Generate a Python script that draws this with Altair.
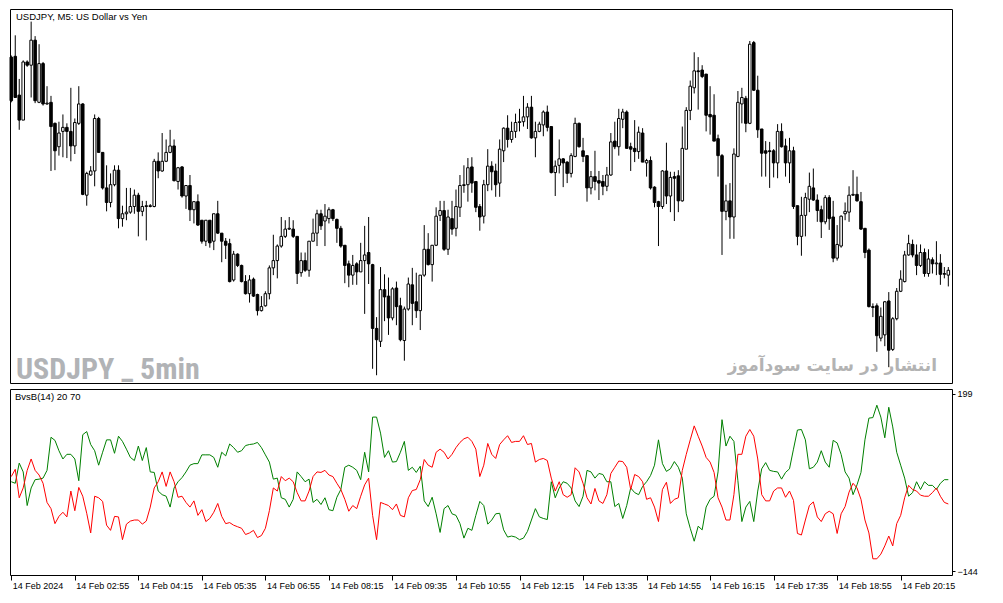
import altair as alt
import pandas as pd

# USDJPY M5, 237 bars (14 Feb 2024, from 01:35)
opens = [
    150.731, 150.732, 150.684, 150.653, 150.725, 150.721, 150.752, 150.675, 150.723, 150.673,
    150.675, 150.649, 150.620, 150.639, 150.644, 150.639, 150.621, 150.649, 150.673, 150.560,
    150.585, 150.590, 150.655, 150.613, 150.569, 150.551, 150.573, 150.591, 150.531, 150.537,
    150.539, 150.546, 150.560, 150.540, 150.546, 150.546, 150.546, 150.602, 150.590, 150.602,
    150.613, 150.621, 150.577, 150.595, 150.559, 150.572, 150.542, 150.552, 150.529, 150.503,
    150.529, 150.503, 150.537, 150.513, 150.503, 150.500, 150.455, 150.487, 150.473, 150.453,
    150.438, 150.456, 150.437, 150.417, 150.423, 150.438, 150.470, 150.479, 150.497, 150.509,
    150.518, 150.518, 150.509, 150.464, 150.479, 150.467, 150.503, 150.513, 150.537, 150.528,
    150.531, 150.542, 150.530, 150.519, 150.498, 150.475, 150.461, 150.475, 150.465, 150.479,
    150.489, 150.474, 150.395, 150.379, 150.443, 150.435, 150.408, 150.445, 150.423, 150.380,
    150.419, 150.449, 150.428, 150.417, 150.461, 150.493, 150.474, 150.498, 150.535, 150.541,
    150.493, 150.531, 150.519, 150.545, 150.572, 150.573, 150.595, 150.577, 150.546, 150.534,
    150.573, 150.596, 150.590, 150.575, 150.615, 150.643, 150.629, 150.639, 150.650, 150.651,
    150.657, 150.669, 150.631, 150.639, 150.647, 150.663, 150.645, 150.588, 150.597, 150.605,
    150.601, 150.587, 150.608, 150.649, 150.615, 150.609, 150.569, 150.583, 150.578, 150.577,
    150.571, 150.585, 150.627, 150.620, 150.654, 150.663, 150.620, 150.618, 150.614, 150.637,
    150.600, 150.603, 150.570, 150.552, 150.546, 150.590, 150.559, 150.583, 150.584, 150.553,
    150.617, 150.665, 150.693, 150.714, 150.715, 150.710, 150.660, 150.659, 150.630, 150.609,
    150.540, 150.553, 150.533, 150.608, 150.673, 150.680, 150.649, 150.749, 150.690, 150.642,
    150.615, 150.615, 150.615, 150.600, 150.639, 150.621, 150.600, 150.615, 150.547, 150.509,
    150.535, 150.555, 150.569, 150.554, 150.542, 150.527, 150.557, 150.533, 150.482, 150.497,
    150.537, 150.539, 150.560, 150.561, 150.552, 150.519, 150.492, 150.422, 150.423, 150.383,
    150.387, 150.429, 150.369, 150.407, 150.441, 150.453, 150.486, 150.499, 150.486, 150.473,
    150.489, 150.463, 150.480, 150.475, 150.476, 150.462, 150.461,
]
highs = [
    150.733, 150.758, 150.704, 150.727, 150.727, 150.775, 150.757, 150.747, 150.725, 150.695,
    150.683, 150.650, 150.651, 150.660, 150.649, 150.693, 150.655, 150.695, 150.674, 150.589,
    150.596, 150.660, 150.657, 150.613, 150.597, 150.587, 150.597, 150.597, 150.547, 150.569,
    150.569, 150.567, 150.563, 150.553, 150.553, 150.549, 150.605, 150.613, 150.637, 150.629,
    150.641, 150.629, 150.595, 150.596, 150.572, 150.585, 150.552, 150.561, 150.529, 150.529,
    150.529, 150.537, 150.553, 150.513, 150.507, 150.506, 150.491, 150.488, 150.474, 150.461,
    150.461, 150.458, 150.438, 150.435, 150.441, 150.473, 150.511, 150.499, 150.533, 150.529,
    150.533, 150.529, 150.509, 150.489, 150.489, 150.503, 150.531, 150.542, 150.542, 150.549,
    150.545, 150.543, 150.531, 150.522, 150.498, 150.479, 150.486, 150.477, 150.501, 150.522,
    150.533, 150.475, 150.409, 150.471, 150.462, 150.458, 150.446, 150.453, 150.433, 150.422,
    150.458, 150.470, 150.464, 150.461, 150.523, 150.513, 150.498, 150.545, 150.553, 150.553,
    150.542, 150.553, 150.567, 150.585, 150.597, 150.606, 150.607, 150.577, 150.549, 150.579,
    150.617, 150.602, 150.599, 150.629, 150.644, 150.659, 150.651, 150.661, 150.667, 150.683,
    150.674, 150.683, 150.651, 150.651, 150.665, 150.671, 150.645, 150.603, 150.629, 150.606,
    150.602, 150.612, 150.656, 150.650, 150.631, 150.609, 150.590, 150.615, 150.590, 150.585,
    150.595, 150.637, 150.651, 150.667, 150.667, 150.665, 150.625, 150.653, 150.645, 150.643,
    150.605, 150.608, 150.571, 150.553, 150.591, 150.625, 150.589, 150.589, 150.591, 150.645,
    150.669, 150.702, 150.737, 150.731, 150.721, 150.710, 150.695, 150.685, 150.635, 150.611,
    150.573, 150.575, 150.618, 150.689, 150.693, 150.683, 150.751, 150.751, 150.708, 150.642,
    150.627, 150.626, 150.617, 150.648, 150.649, 150.630, 150.631, 150.620, 150.547, 150.558,
    150.563, 150.588, 150.593, 150.561, 150.547, 150.560, 150.560, 150.553, 150.523, 150.535,
    150.551, 150.571, 150.591, 150.583, 150.564, 150.519, 150.494, 150.426, 150.426, 150.421,
    150.429, 150.440, 150.409, 150.445, 150.467, 150.491, 150.511, 150.505, 150.499, 150.499,
    150.494, 150.493, 150.483, 150.503, 150.487, 150.471, 150.471,
]
lows = [
    150.675, 150.681, 150.641, 150.653, 150.719, 150.681, 150.674, 150.674, 150.671, 150.672,
    150.590, 150.591, 150.609, 150.607, 150.606, 150.602, 150.611, 150.647, 150.560, 150.547,
    150.584, 150.571, 150.613, 150.567, 150.540, 150.545, 150.571, 150.519, 150.521, 150.529,
    150.537, 150.537, 150.509, 150.534, 150.504, 150.545, 150.545, 150.581, 150.589, 150.601,
    150.612, 150.577, 150.567, 150.557, 150.543, 150.528, 150.525, 150.522, 150.500, 150.497,
    150.495, 150.492, 150.512, 150.477, 150.481, 150.452, 150.453, 150.471, 150.452, 150.437,
    150.427, 150.434, 150.411, 150.416, 150.422, 150.431, 150.461, 150.457, 150.495, 150.507,
    150.517, 150.507, 150.450, 150.459, 150.465, 150.459, 150.503, 150.497, 150.517, 150.497,
    150.525, 150.528, 150.501, 150.495, 150.451, 150.446, 150.449, 150.449, 150.465, 150.413,
    150.450, 150.345, 150.337, 150.372, 150.404, 150.387, 150.405, 150.399, 150.379, 150.355,
    150.417, 150.399, 150.408, 150.393, 150.459, 150.473, 150.453, 150.497, 150.528, 150.491,
    150.486, 150.511, 150.509, 150.533, 150.563, 150.552, 150.563, 150.539, 150.516, 150.525,
    150.565, 150.566, 150.558, 150.558, 150.601, 150.619, 150.625, 150.631, 150.639, 150.645,
    150.642, 150.630, 150.607, 150.638, 150.633, 150.639, 150.587, 150.559, 150.587, 150.570,
    150.575, 150.582, 150.607, 150.619, 150.601, 150.552, 150.561, 150.566, 150.554, 150.560,
    150.565, 150.584, 150.617, 150.609, 150.643, 150.618, 150.590, 150.601, 150.605, 150.601,
    150.583, 150.567, 150.545, 150.497, 150.543, 150.549, 150.539, 150.528, 150.539, 150.552,
    150.617, 150.653, 150.686, 150.666, 150.705, 150.639, 150.635, 150.627, 150.583, 150.486,
    150.529, 150.506, 150.506, 150.607, 150.649, 150.638, 150.648, 150.689, 150.631, 150.583,
    150.583, 150.569, 150.582, 150.581, 150.619, 150.583, 150.575, 150.543, 150.498, 150.485,
    150.509, 150.539, 150.553, 150.527, 150.507, 150.524, 150.517, 150.477, 150.479, 150.495,
    150.529, 150.527, 150.559, 150.552, 150.517, 150.482, 150.421, 150.409, 150.366, 150.379,
    150.373, 150.347, 150.367, 150.405, 150.440, 150.452, 150.485, 150.483, 150.461, 150.471,
    150.459, 150.459, 150.463, 150.461, 150.449, 150.457, 150.447,
]
closes = [
    150.677, 150.681, 150.653, 150.725, 150.721, 150.752, 150.677, 150.723, 150.673, 150.674,
    150.645, 150.615, 150.637, 150.644, 150.639, 150.621, 150.650, 150.673, 150.561, 150.587,
    150.590, 150.655, 150.613, 150.569, 150.551, 150.573, 150.591, 150.531, 150.537, 150.539,
    150.546, 150.560, 150.540, 150.546, 150.547, 150.547, 150.602, 150.590, 150.602, 150.613,
    150.621, 150.578, 150.594, 150.559, 150.572, 150.542, 150.552, 150.523, 150.503, 150.529,
    150.501, 150.537, 150.513, 150.503, 150.498, 150.453, 150.487, 150.473, 150.453, 150.438,
    150.455, 150.435, 150.417, 150.422, 150.438, 150.470, 150.479, 150.497, 150.509, 150.518,
    150.519, 150.509, 150.463, 150.479, 150.467, 150.503, 150.513, 150.537, 150.522, 150.534,
    150.542, 150.531, 150.519, 150.497, 150.473, 150.461, 150.473, 150.465, 150.479, 150.486,
    150.475, 150.395, 150.381, 150.443, 150.434, 150.408, 150.444, 150.422, 150.381, 150.419,
    150.450, 150.426, 150.417, 150.461, 150.493, 150.474, 150.498, 150.534, 150.541, 150.493,
    150.533, 150.518, 150.546, 150.572, 150.573, 150.594, 150.575, 150.545, 150.533, 150.573,
    150.596, 150.589, 150.573, 150.617, 150.643, 150.629, 150.639, 150.650, 150.651, 150.657,
    150.669, 150.631, 150.639, 150.648, 150.663, 150.644, 150.588, 150.596, 150.605, 150.600,
    150.587, 150.609, 150.649, 150.620, 150.608, 150.569, 150.583, 150.577, 150.575, 150.571,
    150.585, 150.626, 150.620, 150.655, 150.663, 150.618, 150.617, 150.614, 150.638, 150.601,
    150.603, 150.569, 150.551, 150.546, 150.590, 150.559, 150.582, 150.581, 150.553, 150.618,
    150.665, 150.695, 150.714, 150.713, 150.707, 150.659, 150.657, 150.627, 150.609, 150.540,
    150.553, 150.533, 150.611, 150.675, 150.681, 150.649, 150.747, 150.690, 150.641, 150.612,
    150.612, 150.614, 150.600, 150.639, 150.620, 150.600, 150.615, 150.546, 150.509, 150.535,
    150.557, 150.571, 150.554, 150.541, 150.527, 150.557, 150.531, 150.482, 150.499, 150.534,
    150.540, 150.560, 150.561, 150.553, 150.518, 150.489, 150.422, 150.421, 150.386, 150.410,
    150.428, 150.368, 150.407, 150.441, 150.456, 150.486, 150.500, 150.486, 150.473, 150.489,
    150.463, 150.481, 150.475, 150.476, 150.462, 150.463, 150.467,
]

# BvsB(14) lines, same bars
bears_line = [
    29, 26, 65, 48, -17, 17, 33, 34, 36, 51,
    115, 109, 89, 73, 82, 82, 73, 31, 120, 126,
    101, 89, 61, 86, 110, 110, 84, 117, 107, 92,
    76, 70, 98, 70, 95, 48, 47, 11, 4, 1,
    -20, 17, 29, 37, 48, 61, 64, 64, 81, 81,
    81, 76, 57, 86, 79, 102, 95, 86, 89, 99,
    101, 102, 105, 95, 81, 67, 34, 36, -2, -5,
    -20, -5, 48, 39, 29, 34, -11, -5, -15, -2,
    -25, -27, -1, 14, 57, 61, 57, 51, 33, 86,
    48, 154, 154, 123, 76, 89, 67, 68, 86, 107,
    51, 57, 47, 59, -8, -19, -1, -33, -69, -23,
    -17, -33, -36, -52, -80, -61, -65, -36, -9, -17,
    -53, -45, -33, -32, -64, -78, -76, -78, -83, -80,
    -67, -45, -23, -39, -42, -44, 29, -2, 17, 29,
    26, 17, -8, -19, 1, 51, 48, 36, 45, 43,
    29, 29, -19, -13, -42, -17, 17, 8, 4, 20,
    29, 41, 61, 110, 64, 49, 54, 68, 57, 36,
    -33, -61, -86, -57, -64, -20, -5, 1, 48, 149,
    98, 117, 107, 31, -48, -20, -9, -48, 11, 54,
    66, 51, 49, 48, 34, 47, 54, 92, 129, 130,
    110, 54, 57, 67, 89, 67, 57, 109, 104, 82,
    48, 36, 4, 23, 47, 110, 152, 153, 177, 154,
    114, 173, 135, 86, 61, 36, 1, 8, 29, 14,
    29, 22, 22, 14, 26, 33, 33,
]
bulls_line = [
    39, 53, -2, 17, 51, 73, 51, 42, 26, -11,
    -23, -52, -38, -30, -39, 11, -27, 18, 1, -32,
    -70, 1, -2, -9, -55, -65, -38, -39, -83, -53,
    -47, -45, -45, -53, -47, -20, 17, 29, 48, 20,
    48, 29, -1, 1, -11, -20, -8, -36, -25, -48,
    -42, -30, -13, -38, -52, -50, -55, -58, -61, -73,
    -70, -65, -79, -75, -61, -27, 17, 11, 39, 31,
    36, 29, 8, -8, -8, 11, 39, 48, 47, 51,
    42, 39, 26, 14, -5, -28, -17, -23, 1, 23,
    36, -36, -83, -11, -14, -17, -25, -14, -36, -39,
    -2, 12, 14, 33, 72, 61, 57, 86, 92, 86,
    73, 82, 95, 105, 112, 115, 107, 92, 39, 61,
    103, 82, 74, 101, 110, 118, 105, 107, 107, 118,
    101, 103, 67, 72, 74, 70, 36, 11, 29, 4,
    -1, 4, 56, 48, 26, -2, -14, 16, -8, -13,
    4, 45, 57, 69, 68, 57, 14, 43, 39, 29,
    -5, -2, -20, -48, 14, 28, -13, -5, -2, 51,
    82, 110, 137, 117, 98, 76, 67, 47, -2, -20,
    -45, -45, 4, 82, 82, 117, 130, 117, 73, 4,
    -8, -8, 11, 17, 17, -1, 11, -7, -71, -74,
    -45, -17, -10, -39, -48, -33, -28, -33, -71, -33,
    -19, 9, 26, 17, -5, -45, -70, -120, -120, -111,
    -95, -76, -95, -52, -36, -2, 22, 14, 11, 3,
    1, 1, 8, 17, 1, -11, -14,
]

time_ticks = [0, 16, 32, 48, 64, 80, 96, 112, 128, 144, 160, 176, 192, 208, 224]
time_labels = [
    "14 Feb 2024", "14 Feb 02:55", "14 Feb 04:15", "14 Feb 05:35", "14 Feb 06:55",
    "14 Feb 08:15", "14 Feb 09:35", "14 Feb 10:55", "14 Feb 12:15", "14 Feb 13:35",
    "14 Feb 14:55", "14 Feb 16:15", "14 Feb 17:35", "14 Feb 18:55", "14 Feb 20:15",
]
price_ticks = [150.370, 150.410, 150.450, 150.490, 150.530, 150.570,
               150.610, 150.650, 150.690, 150.730, 150.770]
ind_ticks = [199, -144]

chart_title = "USDJPY, M5:  US Dollar vs Yen"
ind_title = "BvsB(14) 20 70"
mark_left = "USDJPY _ 5min"
mark_right = "انتشار در سایت سودآموز"

FONT = "Liberation Sans"
NARROW = "Roboto Condensed, DejaVu Sans Condensed, Noto Sans Condensed, Liberation Sans Narrow, Liberation Sans"
W = 942

bars = list(range(len(closes)))
candles = pd.DataFrame({"bar": bars, "open": opens, "high": highs,
                        "low": lows, "close": closes})
ind = pd.DataFrame({"bar": bars, "bears": bears_line, "bulls": bulls_line})

x_scale = alt.Scale(domain=[-0.325, 236.925], nice=False, zero=False)
price_scale = alt.Scale(domain=[150.3274, 150.7906], nice=False, zero=False)
ind_scale = alt.Scale(domain=[-151.3, 208.3], nice=False, zero=False)

wicks = alt.Chart(candles).mark_rule(color="black", strokeWidth=1).encode(
    x=alt.X("bar:Q", scale=x_scale, axis=None),
    y=alt.Y("low:Q", scale=price_scale, title=None,
            axis=alt.Axis(orient="right", values=price_ticks, format=".3f",
                          tickSize=3, labelPadding=2)),
    y2="high:Q",
)

bodies = alt.Chart(candles).transform_calculate(
    left="datum.bar - 0.32", right="datum.bar + 0.32"
).mark_rect(stroke="black", strokeWidth=1).encode(
    x=alt.X("left:Q", scale=x_scale, axis=None),
    x2="right:Q",
    y=alt.Y("open:Q", scale=price_scale, axis=None),
    y2="close:Q",
    fill=alt.condition("datum.close < datum.open", alt.value("black"), alt.value("white")),
)

def label(txt, x, y, **kw):
    return alt.Chart(pd.DataFrame({"t": [txt]})).mark_text(**kw).encode(
        x=alt.value(x), y=alt.value(y), text="t:N")

top = alt.layer(
    label(mark_left, 6, 370, align="left", baseline="alphabetic",
          font=NARROW, fontWeight="bold", fontSize=30, color="#b1b3b6"),
    label(mark_right, 927, 362, align="right", baseline="alphabetic",
          font="DejaVu Sans", fontWeight="bold", fontSize=17, color="#b3b3b3"),
    wicks,
    bodies,
    label(chart_title, 6, 8, align="left", baseline="middle",
          font=FONT, fontSize=9.5, color="black"),
).properties(width=W, height=374)

label_expr = "[{}][indexof([{}], datum.value)]".format(
    ", ".join("'{}'".format(s) for s in time_labels),
    ", ".join(str(t) for t in time_ticks),
)

x_axis = alt.Axis(values=time_ticks, labelExpr=label_expr, labelAlign="left",
                  labelBaseline="top", tickSize=5, labelPadding=1, labelOffset=1,
                  labelOverlap=False, labelFlush=False, labelBound=False)
y_axis = alt.Axis(orient="right", values=ind_ticks, format="d", tickSize=3,
                  labelPadding=2, labelOverlap=False, labelFlush=False)

bears = alt.Chart(ind).mark_line(color="#008000", strokeWidth=1).encode(
    x=alt.X("bar:Q", scale=x_scale, axis=x_axis, title=None),
    y=alt.Y("bears:Q", scale=ind_scale, axis=y_axis, title=None),
)
bulls = alt.Chart(ind).mark_line(color="#ff0000", strokeWidth=1).encode(
    x=alt.X("bar:Q", scale=x_scale, title=None),
    y=alt.Y("bulls:Q", scale=ind_scale, title=None),
)

bottom = alt.layer(
    bears, bulls,
    label(ind_title, 5, 8, align="left", baseline="middle",
          font=FONT, fontSize=9.5, color="black"),
).properties(width=W, height=186)

chart = alt.vconcat(top, bottom, spacing=2, padding=0, background="white").configure_view(
    stroke="black", strokeWidth=1
).configure_axis(
    grid=False, domain=False, labelFont=FONT, labelFontSize=9,
    labelColor="black", tickColor="black", tickWidth=1,
)

chart.save("out.html", embed_options={"renderer": "svg", "actions": False})
